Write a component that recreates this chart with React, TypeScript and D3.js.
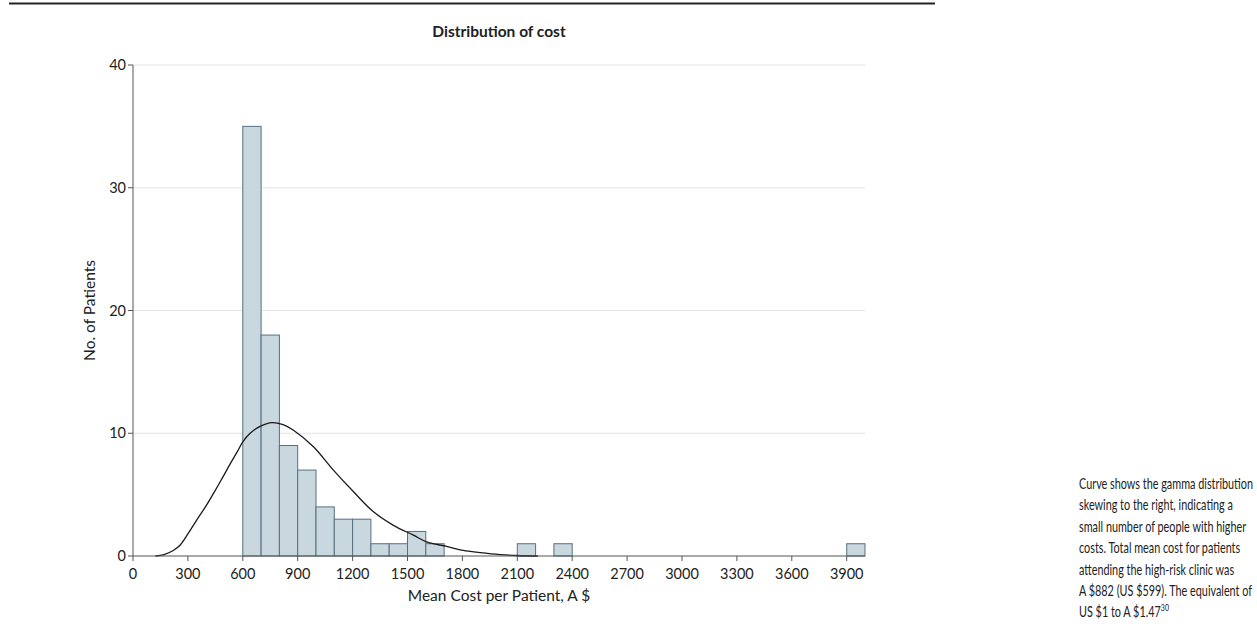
import React from "react";
import * as d3 from "d3";

const binStarts = [600, 700, 800, 900, 1000, 1100, 1200, 1300, 1400, 1500, 1600, 2100, 2300, 3900];
const binCounts = [35, 18, 9, 7, 4, 3, 3, 1, 1, 2, 1, 1, 1, 1];
const binWidth = 100;

const curveCost = [122, 170, 220, 258, 300, 349, 400, 440, 490, 531, 570, 600, 640, 700, 759, 820, 877, 986, 1095, 1204, 1314, 1423, 1532, 1605, 1714, 1805, 1896, 2005, 2096, 2213];
const curveValue = [0, 0.12, 0.45, 0.9, 1.8, 2.95, 4.1, 5.1, 6.4, 7.5, 8.5, 9.3, 10.0, 10.6, 10.87, 10.7, 10.25, 8.9, 7.0, 5.25, 3.6, 2.5, 1.7, 1.15, 0.78, 0.45, 0.28, 0.12, 0.04, 0];

const xTicks = [0, 300, 600, 900, 1200, 1500, 1800, 2100, 2400, 2700, 3000, 3300, 3600, 3900];
const yTicks = [0, 10, 20, 30, 40];

const title = "Distribution of cost";
const xLabel = "Mean Cost per Patient, A $";
const yLabel = "No. of Patients";
const captionLines = [
  "Curve shows the gamma distribution",
  "skewing to the right, indicating a",
  "small number of people with higher",
  "costs. Total mean cost for patients",
  "attending the high-risk clinic was",
  "A $882 (US $599). The equivalent of",
  "US $1 to A $1.47",
];

const FONT = "Lato, 'Open Sans', sans-serif";

export default function App() {
  const x = d3.scaleLinear().domain([0, 4000]).range([133, 865]);
  const y = d3.scaleLinear().domain([0, 40]).range([556, 65]);
  const pts = curveCost.map((c, i) => [c, curveValue[i]] as [number, number]);
  const line = d3
    .line<[number, number]>()
    .x((d) => x(d[0]))
    .y((d) => y(d[1]))
    .curve(d3.curveCatmullRom.alpha(0.5));

  return (
    <svg
      width={1257}
      height={624}
      style={{ position: "absolute", left: 0, top: 0, background: "#fff" }}
      fontFamily={FONT}
    >
      <line x1={9} x2={935} y1={3.5} y2={3.5} stroke="#222" strokeWidth={2} />
      <text x={(x(0) + x(4000)) / 2} y={37} textAnchor="middle" fontSize={15.5} fontWeight="bold" fill="#222">
        {title}
      </text>
      {yTicks.slice(1).map((t) => (
        <line key={"g" + t} x1={x(0)} x2={x(4000)} y1={y(t)} y2={y(t)} stroke="#e3e3e3" strokeWidth={1.2} />
      ))}
      {binStarts.map((s, i) => (
        <rect
          key={"b" + i}
          x={x(s)}
          y={y(binCounts[i])}
          width={x(s + binWidth) - x(s)}
          height={y(0) - y(binCounts[i])}
          fill="#c9d8df"
          stroke="#557180"
          strokeWidth={1}
        />
      ))}
      <path d={line(pts) || ""} fill="none" stroke="#1a1a1a" strokeWidth={1.3} />
      <line x1={x(0)} x2={x(0)} y1={y(40)} y2={y(0)} stroke="#555" strokeWidth={1} />
      <line x1={x(0)} x2={x(4000)} y1={y(0)} y2={y(0)} stroke="#555" strokeWidth={1} />
      {yTicks.map((t) => (
        <g key={"y" + t}>
          <line x1={x(0) - 5} x2={x(0)} y1={y(t)} y2={y(t)} stroke="#555" />
          <text x={x(0) - 7} y={y(t)} dy="0.35em" textAnchor="end" fontSize={14.5} fill="#222">
            {t}
          </text>
        </g>
      ))}
      {xTicks.map((t) => (
        <g key={"x" + t}>
          <line x1={x(t)} x2={x(t)} y1={y(0)} y2={y(0) + 5} stroke="#555" />
          <text x={x(t)} y={y(0) + 23} textAnchor="middle" fontSize={14.5} fill="#222">
            {t}
          </text>
        </g>
      ))}
      <text x={(x(0) + x(4000)) / 2} y={601} textAnchor="middle" fontSize={15.5} fill="#222">
        {xLabel}
      </text>
      <text
        transform={`translate(95,${(y(0) + y(40)) / 2}) rotate(-90)`}
        textAnchor="middle"
        fontSize={15.5}
        fill="#222"
      >
        {yLabel}
      </text>
      {captionLines.map((l, i) => (
        <text
          key={"c" + i}
          transform={`translate(1079,${489 + i * 21.4}) scale(0.7,1)`}
          fontSize={15.5}
          fill="#222"
        >
          {l}
          {i === captionLines.length - 1 ? (
            <tspan fontSize={10} dy={-6}>
              30
            </tspan>
          ) : null}
        </text>
      ))}
    </svg>
  );
}
